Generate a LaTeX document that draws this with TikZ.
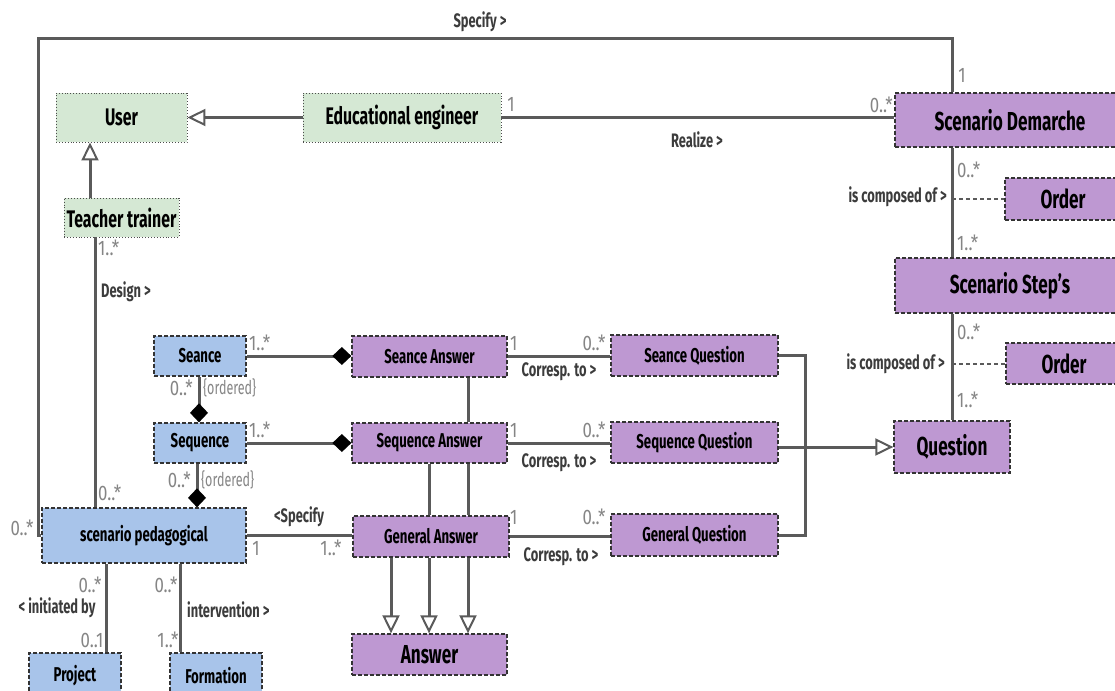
\documentclass[tikz,border=0pt]{standalone}
\usepackage{fontspec}
\setmainfont{Fira Sans}[FakeStretch=0.66]
\newfontfamily\multfont{Fira Sans}[FakeStretch=0.8]
\usetikzlibrary{arrows.meta}
\definecolor{gfill}{HTML}{D5E8D4}
\definecolor{bfill}{HTML}{A8C4EA}
\definecolor{pfill}{HTML}{BE98D2}
\definecolor{lcol}{HTML}{5A5A5A}
\definecolor{mcol}{HTML}{858585}
\definecolor{rcol}{HTML}{3C3C3C}
\tikzset{
  gbox/.style={draw=black!70, dotted, line width=0.9pt, fill=gfill, inner sep=0pt, font=\fontsize{24}{26}\selectfont\bfseries},
  bbox/.style={draw=black!80, dash pattern=on 4pt off 2pt, line width=1.3pt, fill=bfill, inner sep=0pt, font=\fontsize{20}{22}\selectfont\bfseries},
  pbox/.style={draw=black!80, dash pattern=on 4pt off 2pt, line width=1.3pt, fill=pfill, inner sep=0pt, font=\fontsize{20}{22}\selectfont\bfseries},
  pbig/.style={pbox, font=\fontsize{26}{28}\selectfont\bfseries},
  conn/.style={draw=lcol, line width=3pt},
  gen/.style={conn, -{Triangle[open, length=18pt, width=17pt, line width=2pt, fill=white]}},
  comp/.style={conn, -{Diamond[length=19pt, width=18pt, black, fill=black]}},
  dotl/.style={draw=lcol, line width=2pt, dash pattern=on 4pt off 3pt},
  mult/.style={text=mcol, inner sep=0pt, font=\multfont\fontsize{21}{23}\selectfont},
  ord/.style={text=mcol, inner sep=0pt, font=\fontsize{19}{21}\selectfont},
  rel/.style={text=rcol, inner sep=0pt, font=\fontsize{19.5}{21}\selectfont\bfseries},
}
\begin{document}
\begin{tikzpicture}[x=1pt,y=-1pt]
\useasboundingbox (0,0) rectangle (1115,690);
\clip (0,0) rectangle (1115,690);
% nodes
\node[gbox, minimum width=131pt, minimum height=49pt] (user) at (121.5,117.5) {User};
\node[gbox, minimum width=198pt, minimum height=49pt] (ee) at (402,117.5) {Educational engineer};
\node[gbox, minimum width=115pt, minimum height=39pt] (tt) at (121.5,217.5) {Teacher trainer};
\node[pbig, minimum width=230pt, minimum height=54pt] (sd) at (1010,120) {Scenario Demarche};
\node[pbig, minimum width=116pt, minimum height=42pt] (order1) at (1063,199) {Order};
\node[pbig, minimum width=230pt, minimum height=55pt] (steps) at (1010,285.5) {Scenario Step's};
\node[pbig, minimum width=116pt, minimum height=41pt] (order2) at (1064,363.5) {Order};
\node[pbig, minimum width=116pt, minimum height=52pt] (question) at (952,447) {Question};
\node[bbox, minimum width=92pt, minimum height=40pt] (seance) at (200,356) {Seance};
\node[bbox, minimum width=92pt, minimum height=40pt] (sequence) at (200,443) {Sequence};
\node[bbox, minimum width=204pt, minimum height=55pt] (sp) at (144,535.5) {scenario pedagogical};
\node[bbox, minimum width=92pt, minimum height=46pt] (project) at (75,676) {Project};
\node[bbox, minimum width=92pt, minimum height=46pt] (formation) at (216,676) {Formation};
\node[pbox, minimum width=155pt, minimum height=41pt] (sa) at (429.5,356.5) {Seance Answer};
\node[pbox, minimum width=155pt, minimum height=40pt] (qa) at (429.5,443) {Sequence Answer};
\node[pbox, minimum width=156pt, minimum height=41pt] (ga) at (431,536.5) {General Answer};
\node[pbig, minimum width=155pt, minimum height=41pt] (answer) at (429.5,654.5) {Answer};
\node[pbox, minimum width=167pt, minimum height=41pt] (sq) at (694.5,355.5) {Seance Question};
\node[pbox, minimum width=167pt, minimum height=41pt] (qq) at (694.5,442.5) {Sequence Question};
\node[pbox, minimum width=167pt, minimum height=42pt] (gq) at (694.5,535) {General Question};
% coordinates
\coordinate (spc1) at (38,39);
\coordinate (spc2) at (952,39);
\coordinate (j1) at (952,199);
\coordinate (j2) at (952,363.5);
\coordinate (bus) at (805,445);
% connectors
\draw[conn] (sp.west) -| (spc1) -- (spc2) -- (spc2 |- sd.north);
\draw[conn] (ee.east) -- (ee.east -| sd.west);
\draw[gen] (ee.west) -- (user.east);
\draw[gen] ([xshift=-31.5pt]tt.north) -- ([xshift=-31.5pt]tt.north |- user.south);
\draw[conn] ([xshift=-26.5pt]tt.south) -- ([xshift=-26.5pt]tt.south |- sp.north);
\draw[conn] (sd.south -| spc2) -- (steps.north -| spc2);
\draw[dotl] (j1) -- (order1.west);
\draw[conn] (steps.south -| question.north) -- (question.north);
\draw[dotl] (j2) -- (order2.west);
\draw[comp] (seance.east) -- (seance.east -| sa.west);
\draw[comp] (sequence.east) -- (sequence.east -| qa.west);
\draw[comp] ([xshift=-1pt]seance.south) -- ([xshift=-1pt]sequence.north);
\draw[comp] ([xshift=-3pt]sequence.south) -- ([xshift=-3pt]sequence.south |- sp.north);
\draw[conn] (sp.east) -- (sp.east -| ga.west);
\draw[conn] ([xshift=-38pt]sp.south) -- ([xshift=-38pt]sp.south |- project.north);
\draw[conn] ([xshift=36pt]sp.south) -- ([xshift=36pt]sp.south |- formation.north);
\draw[conn] ([xshift=38.5pt]sa.south) -- ([xshift=38.5pt]sa.south |- qa.north);
\draw[conn] ([xshift=-0.5pt]qa.south) -- ([xshift=-0.5pt]qa.south |- ga.north);
\draw[conn] ([xshift=38.5pt]qa.south) -- ([xshift=38.5pt]qa.south |- ga.north);
\draw[gen] ([xshift=-40pt]ga.south) -- ([xshift=-40pt]ga.south |- answer.north);
\draw[gen] ([xshift=-2pt]ga.south) -- ([xshift=-2pt]ga.south |- answer.north);
\draw[gen] ([xshift=37pt]ga.south) -- ([xshift=37pt]ga.south |- answer.north);
\draw[conn] (sa.east) -- (sa.east -| sq.west);
\draw[conn] (qa.east) -- (qa.east -| qq.west);
\draw[conn] (ga.east) -- (ga.east -| gq.west);
\draw[conn] (sq.east) -| (bus) |- (gq.east);
\draw[gen] (question.west -| qq.east) -- (question.west);
% labels
\node[rel] (l1) at (480,22) {Specify >};
\node[mult] (l2) at (511,104) {1};
\node[mult, anchor=east] (l3) at (893,105) {0..*};
\node[rel] (l4) at (697,140) {Realize >};
\node[mult] (l5) at (962,75) {1};
\node[mult, anchor=west] (l6) at (957,170) {0..*};
\node[mult, anchor=west] (l7) at (957,243) {1..*};
\node[rel, anchor=east] (l8) at (947,197) {is composed of >};
\node[mult, anchor=west] (l9) at (957,332) {0..*};
\node[mult, anchor=west] (l10) at (957,400) {1..*};
\node[rel, anchor=east] (l11) at (945,364) {is composed of >};
\node[mult, anchor=west] (l12) at (98,248) {1..*};
\node[rel, anchor=west] (l13) at (101,292) {Design >};
\node[mult, anchor=west] (l14) at (98,493) {0..*};
\node[mult] (l15) at (22,528) {0..*};
\node[mult, anchor=west] (l16) at (249,343) {1..*};
\node[mult, anchor=west] (l17) at (249,430) {1..*};
\node[mult, anchor=east] (l18) at (193,388) {0..*};
\node[ord, anchor=west] (l19) at (203,388) {\{ordered\}};
\node[mult, anchor=east] (l20) at (191,480) {0..*};
\node[ord, anchor=west] (l21) at (201,480) {\{ordered\}};
\node[rel] (l22) at (299,517) {<Specify};
\node[mult] (l23) at (256,548) {1};
\node[mult] (l24) at (331,548) {1..*};
\node[mult] (l25) at (90,585) {0..*};
\node[rel] (l26) at (57,608) {< initiated by};
\node[mult] (l27) at (92,640) {0..1};
\node[mult] (l28) at (166,585) {0..*};
\node[rel, anchor=west] (l29) at (187,610) {intervention >};
\node[mult] (l30) at (168,640) {1..*};
\node[mult, anchor=west] (l31) at (510,343) {1};
\node[mult] (l32) at (594,343) {0..*};
\node[rel] (l33) at (559,372) {Corresp. to >};
\node[mult, anchor=west] (l34) at (510,430) {1};
\node[mult] (l35) at (594,430) {0..*};
\node[rel] (l36) at (559,463) {Corresp. to >};
\node[mult, anchor=west] (l37) at (510,517) {1};
\node[mult] (l38) at (594,517) {0..*};
\node[rel] (l39) at (561,557) {Corresp. to >};
\end{tikzpicture}
\end{document}
